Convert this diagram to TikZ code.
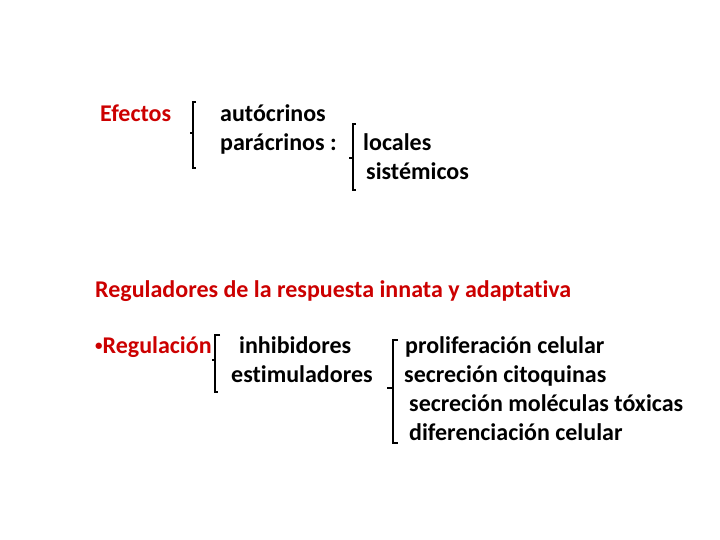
\documentclass[tikz,border=0pt]{standalone}
\usepackage{fontspec}
\setmainfont{Carlito}[Ligatures=NoCommon]
\definecolor{rojo}{RGB}{204,0,0}
\begin{document}
\begin{tikzpicture}[x=1pt,y=-1pt,
	txt/.style={anchor=base west,inner sep=0pt,font=\fontsize{24}{28.8}\selectfont\bfseries},
	rtxt/.style={txt,text=rojo},
	brk/.style={line width=1.6pt}]
	\useasboundingbox(0,0)rectangle(720,540);
	% primer bloque
	\node[rtxt](efectos)at(100,122){Efectos};
	\node[txt](autocrinos)at(220,122){autócrinos};
	\node[txt](paracrinos)at(220,151){parácrinos :};
	\node[txt](locales)at(363,151){locales};
	\node[txt](sistemicos)at(366,180){sistémicos};
	\draw[brk](196,102)--(193,102)--(193,168)--(196,168);
	\draw[brk](193,133)--(190,133);
	\draw[brk](356,124)--(353,124)--(353,190)--(356,190);
	\draw[brk](353,158)--(349,158);
	% segundo bloque
	\node[rtxt](reguladores)at(95,297){Reguladores de la respuesta innata y adaptativa};
	\node[rtxt](regulacion)at(95,353){{\fontsize{15}{15}\selectfont\raisebox{2.5pt}{•}}Regulación};
	\node[txt](inhibidores)at(239,353){inhibidores};
	\node[txt](estimuladores)at(231,382){estimuladores};
	\draw[brk](220,335)--(215,335)--(215,392)--(218,392);
	\draw[brk](215,360)--(212,360);
	\node[txt](prolif)at(405,353){proliferación celular};
	\node[txt](citoq)at(404,382){secreción citoquinas};
	\node[txt](molec)at(409,411){secreción moléculas tóxicas};
	\node[txt](difer)at(409,440){diferenciación celular};
	\draw[brk](398,340)--(393,340)--(393,443)--(398,443);
	\draw[brk](393,388)--(387,388);
\end{tikzpicture}
\end{document}
